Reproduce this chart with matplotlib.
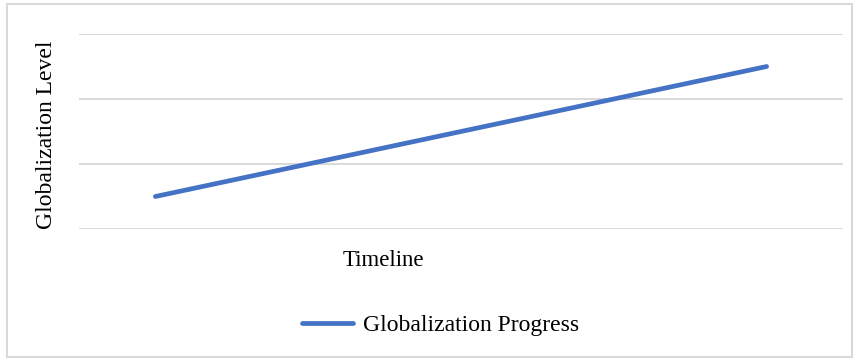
import matplotlib
matplotlib.use("Agg")
import matplotlib.pyplot as plt
from matplotlib.patches import Rectangle
from matplotlib.lines import Line2D

categories = ["1", "2", "3", "4", "5"]
progress = [0.5, 1.0, 1.5, 2.0, 2.5]
series_name = "Globalization Progress"
x_label = "Timeline"
y_label = "Globalization Level"

plt.rcParams['font.family'] = ['Liberation Serif', 'DejaVu Serif']

W, H = 863, 360
fig = plt.figure(figsize=(W / 100, H / 100), dpi=100)
fig.patch.set_facecolor("white")

# outer border
fig.patches.append(Rectangle((7 / W, 3 / H), (852 - 7) / W, (356 - 3) / H,
                             transform=fig.transFigure, fill=False,
                             edgecolor="#d9d9d9", linewidth=1.5))

left, right, top, bottom = 79, 843, 34, 229
ax = fig.add_axes([left / W, 1 - bottom / H, (right - left) / W, (bottom - top) / H])
xs = list(range(len(categories)))
ax.plot(xs, progress, color="#4472C4", linewidth=3.4, solid_capstyle="round", zorder=3)
ax.set_xlim(-0.5, len(categories) - 0.5)
ax.set_ylim(0, 3)
ax.set_yticks([0, 1, 2, 3])
ax.grid(axis="y", color="#d9d9d9", linewidth=1.4)
ax.set_xticks([])
ax.tick_params(left=False, labelleft=False)
for s in ax.spines.values():
    s.set_visible(False)
ax.set_axisbelow(True)

fs = 17
fig.text(46 / W, 1 - 135 / H, y_label, rotation=90, ha="center", va="center",
         fontsize=fs, color="#000000")
fig.text(383 / W, 1 - 261 / H, x_label, ha="center", va="center",
         fontsize=fs - 0.5, color="#000000")

# legend
fig.lines.append(Line2D([302 / W, 353 / W], [1 - 323 / H, 1 - 323 / H],
                        transform=fig.transFigure, color="#4472C4",
                        linewidth=3.4, solid_capstyle="round"))
fig.text(363 / W, 1 - 326 / H, series_name, ha="left", va="center",
         fontsize=fs, color="#000000")

fig.savefig("out.png", dpi=100)
